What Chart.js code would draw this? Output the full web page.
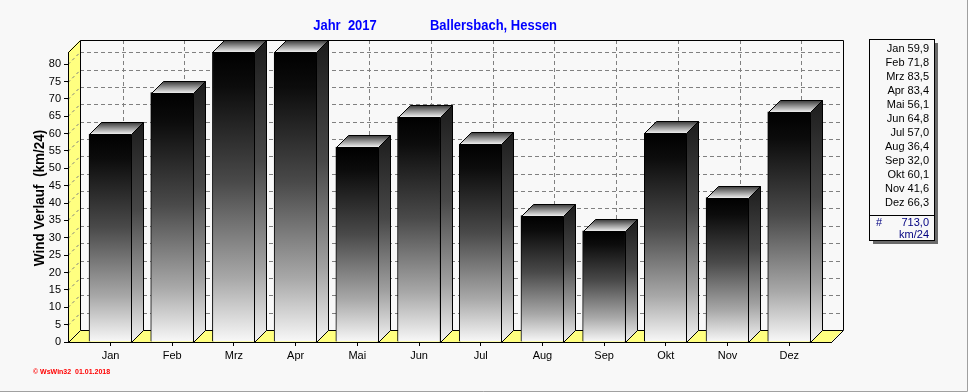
<!DOCTYPE html>
<html>
<head>
<meta charset="utf-8">
<script src="https://cdn.jsdelivr.net/npm/chart.js@4/dist/chart.umd.min.js"></script>
<style>
  html, body { margin: 0; padding: 0; background: #f8f8f8; }
  #wrap { width: 968px; height: 392px; position: relative; }
</style>
</head>
<body>
<div id="wrap"><canvas id="c" width="968" height="392"></canvas></div>
<script>
// ---- data ----
const months = ['Jan', 'Feb', 'Mrz', 'Apr', 'Mai', 'Jun', 'Jul', 'Aug', 'Sep', 'Okt', 'Nov', 'Dez'];
const values = [59.9, 71.8, 83.5, 83.4, 56.1, 64.8, 57.0, 36.4, 32.0, 60.1, 41.6, 66.3];
const yTicks = [0, 5, 10, 15, 20, 25, 30, 35, 40, 45, 50, 55, 60, 65, 70, 75, 80];
const totalValue = 713.0;
const titleYear = 'Jahr  2017';
const titleStation = 'Ballersbach, Hessen';
const yTitle = 'Wind Verlauf  (km/24)';
const unitLabel = 'km/24';
const footer = '\u00A9 WsWin32  01.01.2018';

const FONT = "'Liberation Sans', Arial, sans-serif";
const D = 12; // 3D depth in px
const fmt = v => v.toFixed(1).replace('.', ',');

function barGradient(ctx2d, top, bottom, dark) {
  const g = ctx2d.createLinearGradient(0, top, 0, bottom);
  if (dark) {
    g.addColorStop(0, '#1c1c1c');
    g.addColorStop(0.4, '#484848');
    g.addColorStop(0.75, '#a0a0a0');
    g.addColorStop(1, '#f4f4f4');
  } else {
    g.addColorStop(0, '#000000');
    g.addColorStop(0.12, '#0c0c0c');
    g.addColorStop(0.45, '#4a4a4a');
    g.addColorStop(0.78, '#a8a8a8');
    g.addColorStop(1, '#f8f8f8');
  }
  return g;
}

const scene3d = {
  id: 'scene3d',
  beforeDraw(chart) {
    const ctx = chart.ctx;
    const { left: L, right: R, top: T, bottom: B } = chart.chartArea;
    const ys = chart.scales.y, xs = chart.scales.x;
    ctx.save();
    ctx.fillStyle = '#f8f8f8';
    ctx.fillRect(0, 0, chart.width, chart.height);
    // outer border (right / bottom)
    ctx.strokeStyle = '#a0a0a0';
    ctx.lineWidth = 1;
    ctx.beginPath();
    ctx.moveTo(967.5, 0); ctx.lineTo(967.5, 391.5); ctx.lineTo(0, 391.5);
    ctx.stroke();

    // back wall
    ctx.fillStyle = '#f8f8f8';
    ctx.fillRect(L + D, T - D, R - L, B - T);
    // dashed grid on back wall
    ctx.strokeStyle = '#808080';
    ctx.setLineDash([4, 3]);
    yTicks.forEach(v => {
      if (v === 0) return;
      const y = Math.round(ys.getPixelForValue(v)) - D + 0.5;
      ctx.beginPath();
      ctx.moveTo(L + D, y); ctx.lineTo(R + D, y);
      ctx.stroke();
    });
    months.forEach((m, i) => {
      const x = Math.round(xs.getPixelForValue(i)) + D + 0.5;
      ctx.beginPath();
      ctx.moveTo(x, T - D); ctx.lineTo(x, B - D);
      ctx.stroke();
    });
    ctx.setLineDash([]);
    ctx.strokeStyle = '#000';
    ctx.beginPath();
    ctx.moveTo(L + D + 0.5, B - D); ctx.lineTo(L + D + 0.5, T - D + 0.5);
    ctx.lineTo(R + D + 0.5, T - D + 0.5); ctx.lineTo(R + D + 0.5, B - D);
    ctx.stroke();

    // left wall
    ctx.fillStyle = '#ffff80';
    ctx.beginPath();
    ctx.moveTo(L, B); ctx.lineTo(L, T); ctx.lineTo(L + D, T - D); ctx.lineTo(L + D, B - D);
    ctx.closePath();
    ctx.fill();
    ctx.strokeStyle = '#000';
    ctx.beginPath();
    ctx.moveTo(L + 0.5, T + 0.5); ctx.lineTo(L + D + 0.5, T - D + 0.5);
    ctx.stroke();
    ctx.strokeStyle = '#808080';
    ctx.setLineDash([3, 3]);
    yTicks.forEach(v => {
      if (v === 0) return;
      const y = Math.round(ys.getPixelForValue(v)) + 0.5;
      ctx.beginPath();
      ctx.moveTo(L, y); ctx.lineTo(L + D, y - D);
      ctx.stroke();
    });
    ctx.setLineDash([]);

    // floor
    ctx.fillStyle = '#ffff80';
    ctx.beginPath();
    ctx.moveTo(L, B); ctx.lineTo(L + D, B - D); ctx.lineTo(R + D, B - D); ctx.lineTo(R, B);
    ctx.closePath();
    ctx.fill();
    ctx.strokeStyle = '#000';
    ctx.beginPath();
    ctx.moveTo(L + 0.5, B + 0.5); ctx.lineTo(L + D + 0.5, B - D + 0.5);
    ctx.lineTo(R + D + 0.5, B - D + 0.5); ctx.lineTo(R + 0.5, B + 0.5);
    ctx.stroke();
    ctx.restore();
  },
  afterDatasetsDraw(chart) {
    const ctx = chart.ctx;
    const meta = chart.getDatasetMeta(0);
    ctx.save();
    ctx.lineWidth = 1;
    ctx.strokeStyle = '#000';
    meta.data.forEach(bar => {
      const p = bar.getProps(['x', 'y', 'base', 'width'], true);
      const l = Math.round(p.x - p.width / 2) + 0.5;
      const r = Math.round(p.x + p.width / 2) - 0.5;
      const t = Math.round(p.y) + 0.5;
      const b = Math.round(p.base) + 0.5;
      // side face
      ctx.fillStyle = barGradient(ctx, t - D, b, true);
      ctx.beginPath();
      ctx.moveTo(r, b); ctx.lineTo(r, t); ctx.lineTo(r + D, t - D); ctx.lineTo(r + D, b - D);
      ctx.closePath();
      ctx.fill(); ctx.stroke();
      // top face
      const tg = ctx.createLinearGradient(0, t - D, 0, t);
      tg.addColorStop(0, '#3a3a3a');
      tg.addColorStop(0.5, '#9a9a9a');
      tg.addColorStop(1, '#f4f4f4');
      ctx.fillStyle = tg;
      ctx.beginPath();
      ctx.moveTo(l, t); ctx.lineTo(l + D, t - D); ctx.lineTo(r + D, t - D); ctx.lineTo(r, t);
      ctx.closePath();
      ctx.fill(); ctx.stroke();
    });
    ctx.restore();
  },
  afterDraw(chart) {
    const ctx = chart.ctx;
    ctx.save();
    // title
    ctx.fillStyle = '#0000ff';
    ctx.font = 'bold 15px ' + FONT;
    ctx.textAlign = 'center';
    ctx.textBaseline = 'middle';
    [[titleYear, 345], [titleStation, 493.5]].forEach(([txt, cx]) => {
      ctx.save();
      ctx.translate(cx, 26);
      ctx.scale(0.866, 1);
      ctx.fillText(txt, 0, 0);
      ctx.restore();
    });
    // y axis title
    ctx.save();
    ctx.fillStyle = '#000';
    ctx.font = 'bold 15px ' + FONT;
    ctx.translate(40, 198);
    ctx.rotate(-Math.PI / 2);
    ctx.scale(0.9, 1);
    ctx.fillText(yTitle, 0, 0);
    ctx.restore();

    // legend box
    const bx = 869.5, by = 39.5, bw = 65, bh = 201;
    ctx.fillStyle = '#6a6a6a';
    ctx.fillRect(bx + 3.5, by + 3.5, bw, bh);
    ctx.fillStyle = '#f8f8f8';
    ctx.fillRect(bx, by, bw, bh);
    ctx.strokeStyle = '#000';
    ctx.strokeRect(bx, by, bw, bh);
    ctx.beginPath();
    ctx.moveTo(bx, 215.5); ctx.lineTo(bx + bw, 215.5);
    ctx.stroke();
    ctx.font = '11px ' + FONT;
    ctx.textAlign = 'right';
    ctx.fillStyle = '#000';
    months.forEach((m, i) => {
      ctx.fillText(m + ' ' + fmt(values[i]), 929, 48.5 + 14.04 * i);
    });
    ctx.fillStyle = '#000080';
    ctx.fillText(fmt(totalValue), 929, 223);
    ctx.fillText(unitLabel, 929, 235);
    ctx.textAlign = 'left';
    ctx.fillText('#', 876, 223);

    // footer
    ctx.fillStyle = '#ff0000';
    ctx.font = 'bold 7px ' + FONT;
    ctx.textAlign = 'left';
    ctx.fillText(footer, 33, 372);
    ctx.restore();
  }
};

const chart = new Chart(document.getElementById('c'), {
  type: 'bar',
  data: {
    datasets: [{
      data: values.map((v, i) => ({ x: i, y: v })),
      barThickness: 43,
      borderWidth: 1,
      borderColor: '#000',
      borderSkipped: 'bottom',
      backgroundColor: (c) => {
        const ch = c.chart;
        if (!ch.chartArea || c.type !== 'data' || !c.parsed) return '#444';
        const ys = ch.scales.y;
        return barGradient(ch.ctx, ys.getPixelForValue(c.parsed.y), ys.getPixelForValue(0), false);
      }
    }]
  },
  options: {
    responsive: false,
    animation: false,
    events: [],
    layout: { padding: { left: 0, right: 137, top: 52, bottom: 0 } },
    plugins: { legend: { display: false }, tooltip: { enabled: false }, title: { display: false } },
    scales: {
      x: {
        type: 'linear',
        offset: false,
        min: -0.689,
        max: 11.677,
        afterBuildTicks: s => { s.ticks = months.map((m, i) => ({ value: i })); },
        afterFit: s => { s.height = 50; },
        ticks: {
          autoSkip: false, maxRotation: 0, padding: 3, color: '#000',
          font: { family: FONT, size: 11 },
          callback: v => months[Math.round(v)]
        },
        grid: { drawOnChartArea: false, drawTicks: true, tickLength: 4, color: '#000', offset: false },
        border: { display: true, color: '#000', width: 1 }
      },
      y: {
        type: 'linear',
        min: 0,
        max: 83.5,
        afterBuildTicks: s => { s.ticks = yTicks.map(v => ({ value: v })); },
        afterFit: s => { s.width = 68; },
        ticks: { padding: 3, color: '#000', font: { family: FONT, size: 11 } },
        grid: { drawOnChartArea: false, drawTicks: true, tickLength: 4, color: '#000' },
        border: { display: true, color: '#000', width: 1 }
      }
    }
  },
  plugins: [scene3d]
});
</script>
</body>
</html>
